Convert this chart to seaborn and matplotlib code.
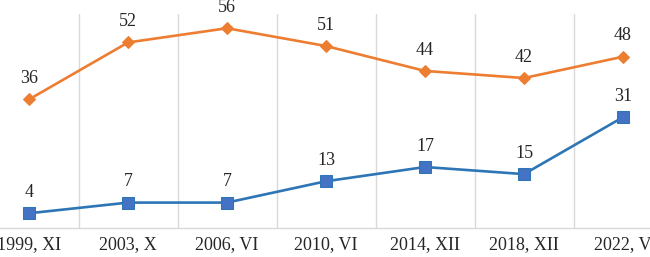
import pandas as pd
import numpy as np
import seaborn as sns
import matplotlib.pyplot as plt

periods = ['1999, XI', '2003, X', '2006, VI', '2010, VI', '2014, XII', '2018, XII', '2022, V']
upper = [36, 52, 56, 51, 44, 42, 48]
lower = [4, 7, 7, 13, 17, 15, 31]

sns.set_style('white')
plt.rcParams['font.family'] = ['Liberation Serif', 'DejaVu Serif']

df = pd.DataFrame({'x': np.arange(len(periods)), 'upper': upper, 'lower': lower})

fig = plt.figure(figsize=(6.5, 2.57), dpi=100)
ax = fig.add_axes([-20.5 / 650, 29.5 / 257, 693 / 650, 213.5 / 257])

sns.lineplot(data=df, x='x', y='upper', ax=ax, color='#ED7D31', linewidth=1.9,
             marker='D', markersize=6.5, markeredgecolor='#ED7D31')
sns.lineplot(data=df, x='x', y='lower', ax=ax, color='#2E75B6', linewidth=1.9,
             marker='s', markersize=8.5, markerfacecolor='#4472C4', markeredgecolor='#2E75B6')

for i in range(len(periods)):
    ax.annotate(str(upper[i]), (i, upper[i]), xytext=(0, 15), textcoords='offset points',
                ha='center', va='center', fontsize=13)
    ax.annotate(str(lower[i]), (i, lower[i]), xytext=(0, 15), textcoords='offset points',
                ha='center', va='center', fontsize=13)

ax.set_xlim(-0.5, len(periods) - 0.5)
ax.set_ylim(0, 60)
ax.set_xticks(np.arange(len(periods)))
ax.set_xticklabels(periods, fontsize=13)
ax.set_yticks([])
ax.set_xlabel('')
ax.set_ylabel('')
for b in np.arange(0.5, len(periods) - 1, 1):
    ax.axvline(b, color='#D9D9D9', linewidth=1, zorder=0)
ax.tick_params(axis='x', length=0, pad=6)
for s in ['top', 'left', 'right']:
    ax.spines[s].set_visible(False)
ax.spines['bottom'].set_color('#D9D9D9')
ax.spines['bottom'].set_linewidth(1)

fig.savefig('out.png', dpi=100)
